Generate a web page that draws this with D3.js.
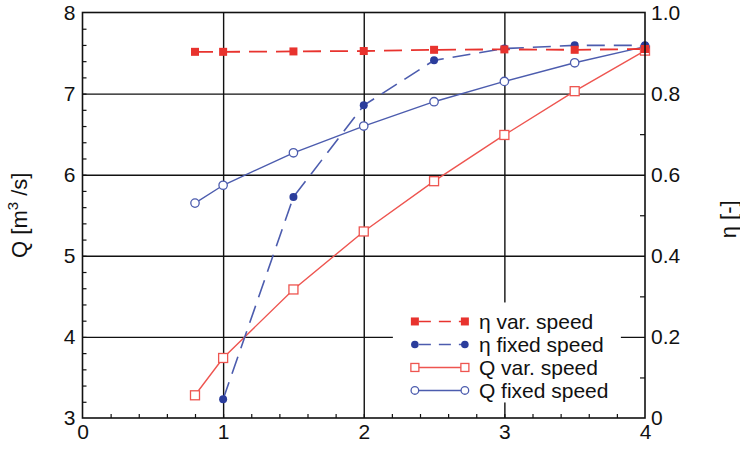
<!DOCTYPE html>
<html>
<head>
<meta charset="utf-8">
<script src="https://cdn.jsdelivr.net/npm/d3@7"></script>
<style>
  body { margin: 0; background: #fff; }
  svg { font-family: "Liberation Sans", Arial, sans-serif; }
</style>
</head>
<body>
<div id="chart"></div>
<script>
// data
var xs = [0.8, 1, 1.5, 2, 2.5, 3, 3.5, 4];
var etaVar = [0.903, 0.903, 0.904, 0.905, 0.908, 0.909, 0.908, 0.91];
var etaFixedX = [1, 1.5, 2, 2.5, 3, 3.5, 4];
var etaFixed = [0.046, 0.545, 0.771, 0.882, 0.911, 0.919, 0.919];
var qVar = [3.28, 3.74, 4.585, 5.3, 5.92, 6.49, 7.03, 7.53];
var qFixed = [5.65, 5.87, 6.27, 6.6, 6.9, 7.15, 7.38, 7.58];
var xTicks = [0, 1, 2, 3, 4];
var qTicks = [3, 4, 5, 6, 7, 8];
var etaTicks = [0, 0.2, 0.4, 0.6, 0.8, 1.0];
var legendNames = ['η var. speed', 'η fixed speed', 'Q var. speed', 'Q fixed speed'];

var w = 740, h = 450;
var margin = {top: 12.5, right: 95, bottom: 32, left: 82.5};
var innerW = w - margin.left - margin.right,
    innerH = h - margin.top - margin.bottom;
var fs = 21;

var red = '#e8332e', redLine = '#ee5550', blue = '#2b3d9c', blueLine = '#4c5cae';

var svg = d3.select('#chart').append('svg')
    .attr('width', w)
    .attr('height', h);
var g = svg.append('g')
    .attr('transform', 'translate(' + [margin.left, margin.top] + ')');

var x = d3.scaleLinear().domain([0, 4]).range([0, innerW]);
var yQ = d3.scaleLinear().domain([3, 8]).range([innerH, 0]);
var yE = d3.scaleLinear().domain([0, 1]).range([innerH, 0]);

// grid lines
g.append('g').attr('class', 'grid')
    .call(d3.axisBottom(x).tickValues([1, 2, 3]).tickSize(-innerH).tickFormat(''))
    .attr('transform', 'translate(0,' + innerH + ')');
g.append('g').attr('class', 'grid')
    .call(d3.axisLeft(yQ).tickValues([4, 5, 6, 7]).tickSize(-innerW).tickFormat(''));
g.selectAll('.grid .domain').remove();
g.selectAll('.grid line').attr('stroke', '#111').attr('stroke-width', 1.4);

// minor ticks (inside)
g.append('g').attr('class', 'minor')
    .attr('transform', 'translate(0,' + innerH + ')')
    .call(d3.axisBottom(x).tickValues(d3.range(0.2, 4, 0.2)).tickSize(-4).tickFormat(''));
g.append('g').attr('class', 'minor')
    .call(d3.axisLeft(yQ).tickValues(d3.range(3.2, 8, 0.2)).tickSize(-4).tickFormat(''));
g.append('g').attr('class', 'minor')
    .attr('transform', 'translate(' + innerW + ',0)')
    .call(d3.axisRight(yE).tickValues([0.1, 0.3, 0.5, 0.7, 0.9]).tickSize(-5).tickFormat(''));
g.selectAll('.minor .domain').remove();
g.selectAll('.minor line').attr('stroke', '#111').attr('stroke-width', 1.2);

// tick labels
var fmtE = function(d) { return d === 0 ? '0' : d3.format('.1f')(d); };
var axB = g.append('g').attr('transform', 'translate(0,' + innerH + ')')
    .call(d3.axisBottom(x).tickValues(xTicks).tickSize(0).tickPadding(6).tickFormat(d3.format('d')));
var axL = g.append('g')
    .call(d3.axisLeft(yQ).tickValues(qTicks).tickSize(0).tickPadding(7).tickFormat(d3.format('d')));
var axR = g.append('g').attr('transform', 'translate(' + innerW + ',0)')
    .call(d3.axisRight(yE).tickValues(etaTicks).tickSize(0).tickPadding(6).tickFormat(fmtE));
[axB, axL, axR].forEach(function(a) {
    a.select('.domain').remove();
    a.selectAll('text').attr('font-size', fs).attr('fill', '#111')
        .attr('font-family', '"Liberation Sans", Arial, sans-serif');
});

var lineQ = function(xv) {
    return d3.line().x(function(d, i) { return x(xv[i]); }).y(function(d) { return yQ(d); });
};
var lineE = function(xv) {
    return d3.line().x(function(d, i) { return x(xv[i]); }).y(function(d) { return yE(d); });
};

// series lines
g.append('path').datum(qVar).attr('d', lineQ(xs)).attr('fill', 'none')
    .attr('stroke', redLine).attr('stroke-width', 1.4);
g.append('path').datum(qFixed).attr('d', lineQ(xs)).attr('fill', 'none')
    .attr('stroke', blueLine).attr('stroke-width', 1.4);
g.append('path').datum(etaFixed).attr('d', lineE(etaFixedX)).attr('fill', 'none')
    .attr('stroke', blueLine).attr('stroke-width', 1.6).attr('stroke-dasharray', '18,9');
g.append('path').datum(etaVar).attr('d', lineE(xs)).attr('fill', 'none')
    .attr('stroke', red).attr('stroke-width', 1.8).attr('stroke-dasharray', '18,9');

// markers
g.selectAll('rect.qvar').data(qVar).enter().append('rect')
    .attr('class', 'qvar')
    .attr('x', function(d, i) { return x(xs[i]) - 4.5; })
    .attr('y', function(d) { return yQ(d) - 4.5; })
    .attr('width', 9).attr('height', 9)
    .attr('fill', '#fff').attr('stroke', redLine).attr('stroke-width', 1.3);
g.selectAll('circle.qfix').data(qFixed).enter().append('circle')
    .attr('class', 'qfix')
    .attr('cx', function(d, i) { return x(xs[i]); })
    .attr('cy', function(d) { return yQ(d); })
    .attr('r', 4.2)
    .attr('fill', '#fff').attr('stroke', blueLine).attr('stroke-width', 1.3);
g.selectAll('circle.efix').data(etaFixed).enter().append('circle')
    .attr('class', 'efix')
    .attr('cx', function(d, i) { return x(etaFixedX[i]); })
    .attr('cy', function(d) { return yE(d); })
    .attr('r', 4)
    .attr('fill', blue);
g.selectAll('rect.evar').data(etaVar).enter().append('rect')
    .attr('class', 'evar')
    .attr('x', function(d, i) { return x(xs[i]) - 4; })
    .attr('y', function(d) { return yE(d) - 4; })
    .attr('width', 8).attr('height', 8)
    .attr('fill', red);

// legend
var lg = g.append('g').attr('transform', 'translate(' + (x(2.2) + 1) + ',' + (yQ(4.4) - 2) + ')');
lg.append('rect').attr('x', 0).attr('y', 0).attr('width', 228).attr('height', 100).attr('fill', '#fff');
var styles = [
    {c: red, dash: '18,9', m: 'sq', fill: red},
    {c: blueLine, dash: '18,9', m: 'ci', fill: blue},
    {c: redLine, dash: null, m: 'sq', fill: '#fff'},
    {c: blueLine, dash: null, m: 'ci', fill: '#fff'}
];
var rowY = d3.scalePoint().domain(legendNames).range([19, 88]);
var item = lg.selectAll('g.item').data(legendNames).enter().append('g')
    .attr('class', 'item')
    .attr('transform', function(d) { return 'translate(0,' + rowY(d) + ')'; });
item.append('line').attr('x1', 22).attr('x2', 72).attr('y1', 0).attr('y2', 0)
    .attr('stroke', function(d, i) { return styles[i].c; })
    .attr('stroke-width', 1.5)
    .attr('stroke-dasharray', function(d, i) { return styles[i].dash ? '12,8' : null; })
    .attr('stroke-dashoffset', -4);
item.each(function(d, i) {
    var s = styles[i], it = d3.select(this);
    [22, 72].forEach(function(px) {
        if (s.m === 'sq') {
            it.append('rect').attr('x', px - 4).attr('y', -4).attr('width', 8).attr('height', 8)
                .attr('fill', s.fill).attr('stroke', s.c).attr('stroke-width', s.fill === '#fff' ? 1.3 : 0);
        } else {
            it.append('circle').attr('cx', px).attr('cy', 0).attr('r', 3.8)
                .attr('fill', s.fill).attr('stroke', s.c).attr('stroke-width', s.fill === '#fff' ? 1.3 : 0);
        }
    });
});
item.append('text').attr('x', 86).attr('y', 0).attr('dy', '0.35em')
    .attr('font-size', fs).attr('fill', '#111')
    .text(function(d) { return d; });

// frame
g.append('rect').attr('width', innerW).attr('height', innerH)
    .attr('fill', 'none').attr('stroke', '#111').attr('stroke-width', 1.6);

// axis titles
var tl = svg.append('text')
    .attr('transform', 'translate(27,' + (margin.top + yQ(5.5)) + ') rotate(-90)')
    .attr('text-anchor', 'middle').attr('font-size', fs + 1).attr('fill', '#111');
tl.append('tspan').text('Q [m');
tl.append('tspan').attr('dy', -9).attr('font-size', 15).text('3');
tl.append('tspan').attr('dy', 9).text(' /s]');

svg.append('text')
    .attr('transform', 'translate(736,' + (margin.top + yE(0.49)) + ') rotate(-90)')
    .attr('text-anchor', 'middle').attr('font-size', fs + 1).attr('fill', '#111')
    .text('η [-]');
</script>
</body>
</html>
